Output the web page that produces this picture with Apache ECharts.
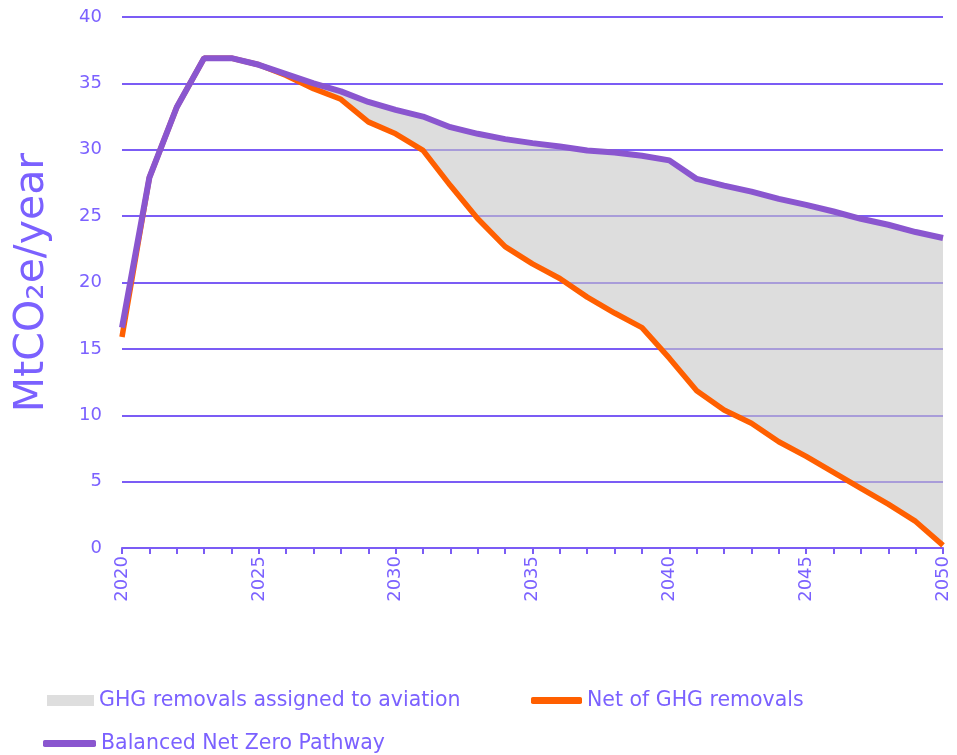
<!DOCTYPE html>
<html>
<head>
<meta charset="utf-8">
<script src="https://cdn.jsdelivr.net/npm/echarts@6/dist/echarts.min.js"></script>
<style>
  html, body { margin: 0; padding: 0; background: #fff; }
  #chart { width: 957px; height: 755px; }
</style>
</head>
<body>
<div id="chart"></div>
<script>
const years = ['2020','2021','2022','2023','2024','2025','2026','2027','2028','2029','2030',
  '2031','2032','2033','2034','2035','2036','2037','2038','2039','2040',
  '2041','2042','2043','2044','2045','2046','2047','2048','2049','2050']

// Balanced Net Zero Pathway
const pathway = [16.6, 27.9, 33.2, 36.9, 36.9, 36.4, 35.7, 35.0, 34.4, 33.6, 33.0,
  32.5, 31.7, 31.2, 30.8, 30.5, 30.25, 29.95, 29.8, 29.55, 29.2,
  27.8, 27.3, 26.85, 26.3, 25.85, 25.35, 24.8, 24.35, 23.8, 23.35]

// Net of GHG removals
const netRemovals = [15.9, 27.9, 33.2, 36.9, 36.9, 36.4, 35.6, 34.6, 33.8, 32.1, 31.2,
  29.95, 27.3, 24.8, 22.7, 21.4, 20.3, 18.9, 17.7, 16.6, 14.3,
  11.85, 10.4, 9.4, 8.0, 6.9, 5.7, 4.5, 3.3, 2.0, 0.2]

const yTicks = { min: 0, max: 40, interval: 5 }

const purple = '#8A56CF'
const orange = '#FF5F00'
const textColor = '#7B61FF'
const gridColor = '#7B5CF5'
const font = 'DejaVu Sans'

// gap between the two lines, stacked on top of the net line
const removals = pathway.map((v, i) => +(v - netRemovals[i]).toFixed(2))

const chart = echarts.init(document.getElementById('chart'))

const legendText = { color: textColor, fontSize: 20.5, fontFamily: font }

const option = {
  animation: false,
  backgroundColor: '#fff',
  grid: { left: 122, right: 14, top: 17, bottom: 207 },
  legend: [
    {
      data: [{ name: 'GHG removals assigned to aviation', icon: 'rect' }],
      left: 42, top: 685, itemWidth: 47, itemHeight: 11,
      textStyle: legendText
    },
    {
      data: [{ name: 'Net of GHG removals', icon: 'roundRect' }],
      left: 526, top: 685, itemWidth: 51, itemHeight: 7,
      textStyle: legendText
    },
    {
      data: [{ name: 'Balanced Net Zero Pathway', icon: 'roundRect' }],
      left: 38, top: 728, itemWidth: 53, itemHeight: 7,
      textStyle: legendText
    }
  ],
  xAxis: {
    type: 'category',
    data: years,
    boundaryGap: false,
    axisLine: { lineStyle: { color: gridColor, width: 2 } },
    axisTick: { show: true, interval: 0, length: 6, lineStyle: { color: gridColor, width: 2 } },
    axisLabel: {
      interval: 4,
      rotate: 90,
      color: textColor,
      fontSize: 18,
      fontFamily: font,
      margin: 8
    },
    splitLine: { show: false }
  },
  yAxis: {
    type: 'value',
    min: yTicks.min,
    max: yTicks.max,
    interval: yTicks.interval,
    name: 'MtCO₂e/year',
    nameLocation: 'middle',
    nameRotate: 90,
    nameGap: 69,
    nameTextStyle: { color: textColor, fontSize: 41, fontFamily: font },
    axisLine: { show: false },
    axisTick: { show: false },
    axisLabel: { color: textColor, fontSize: 18, fontFamily: font, margin: 20 },
    splitLine: { lineStyle: { color: gridColor, width: 2 } }
  },
  series: [
    {
      name: 'base',
      type: 'line',
      stack: 'gap',
      data: netRemovals,
      symbol: 'none',
      lineStyle: { opacity: 0 },
      silent: true
    },
    {
      name: 'GHG removals assigned to aviation',
      type: 'line',
      stack: 'gap',
      data: removals,
      symbol: 'none',
      lineStyle: { opacity: 0, width: 0 },
      itemStyle: { color: '#DEDEDE' },
      areaStyle: { color: '#C6C6C6', opacity: 0.6 }
    },
    {
      name: 'Net of GHG removals',
      type: 'line',
      data: netRemovals,
      symbol: 'none',
      itemStyle: { color: orange },
      lineStyle: { color: orange, width: 5.5 }
    },
    {
      name: 'Balanced Net Zero Pathway',
      type: 'line',
      data: pathway,
      symbol: 'none',
      itemStyle: { color: purple },
      lineStyle: { color: purple, width: 6 }
    }
  ]
}

chart.setOption(option)
</script>
</body>
</html>
